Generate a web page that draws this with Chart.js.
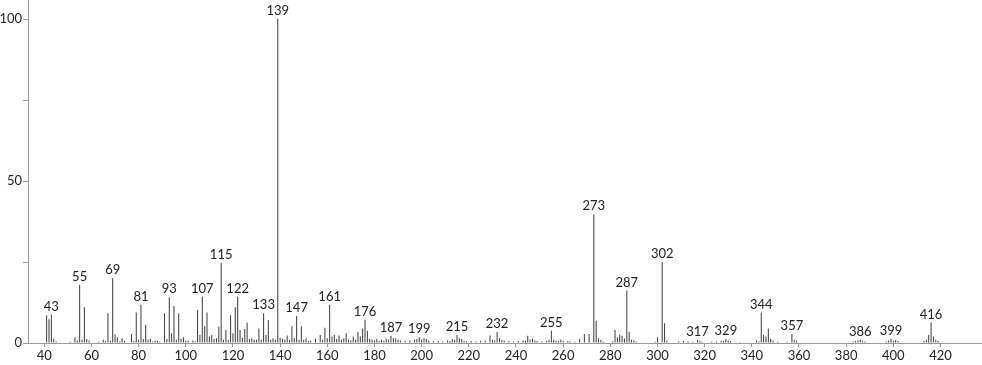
<!DOCTYPE html>
<html><head><meta charset="utf-8">
<style>html,body{margin:0;padding:0;background:#fff}#wrap{width:982px;height:365px;position:relative}</style>
<script src="https://cdn.jsdelivr.net/npm/chart.js@4.4.0/dist/chart.umd.min.js"></script>
</head><body><div id="wrap"><canvas id="c"></canvas></div>
<script>
const masses = [41,42,43,44,45,51,53,54,55,56,57,58,59,63,65,66,67,68,69,70,71,72,73,74,77,78,79,80,81,82,83,84,85,86,87,88,89,
91,92,93,94,95,96,97,98,99,100,101,103,104,105,106,107,108,109,110,111,112,113,114,115,116,117,118,119,120,121,122,123,124,125,126,127,128,129,130,
131,132,133,134,135,136,137,138,139,140,141,142,143,144,145,146,147,148,149,150,151,152,153,155,157,158,159,160,161,162,163,164,165,166,167,168,169,170,
171,172,173,174,175,176,177,178,179,180,181,182,183,184,185,186,187,188,189,190,191,193,195,197,198,199,200,201,202,203,205,207,209,211,212,213,214,215,216,217,218,219,
221,223,225,227,229,230,231,232,233,234,235,237,239,241,243,244,245,246,247,248,249,251,253,254,255,256,257,258,259,260,262,263,265,267,269,271,273,274,275,276,277,
281,282,283,284,285,286,287,288,289,290,291,299,300,302,303,304,309,311,313,315,317,318,319,323,325,327,328,329,330,331,335,342,343,344,345,346,347,348,349,351,355,
357,358,359,383,384,385,386,387,388,397,398,399,400,401,402,413,414,415,416,417,418,419];
const intensities = [8.5,7.3,8.7,1.3,0.5,0.4,1.8,0.8,18.0,1.0,11.0,1.2,0.8,0.4,1.0,0.6,9.2,0.8,20.0,2.7,1.8,0.5,1.5,0.6,2.8,0.6,9.4,1.0,11.8,1.2,5.6,1.0,1.3,0.5,0.7,0.7,0.4,
9.2,1.2,14.1,3.0,11.4,1.0,9.2,1.3,1.8,0.7,0.8,0.7,0.5,10.2,2.5,14.3,5.2,9.4,2.0,2.5,1.2,1.5,5.0,24.8,1.0,4.0,1.0,8.6,3.0,11.0,14.3,4.0,1.6,4.3,6.3,1.2,1.5,1.0,1.0,
4.5,1.0,9.2,2.5,7.1,1.0,1.5,1.0,100,1.6,1.3,1.0,2.3,1.0,5.2,1.5,8.3,1.0,5.2,1.0,1.5,0.6,0.7,1.3,2.5,1.0,4.7,1.5,11.7,2.0,2.5,1.2,2.3,1.0,1.5,3.0,1.0,0.8,
2.0,1.0,3.5,2.0,4.5,7.1,3.8,1.3,1.0,0.8,1.2,0.6,1.0,0.7,1.3,1.0,2.2,1.5,1.4,1.0,0.8,0.6,0.8,1.0,1.2,1.8,1.0,1.5,1.2,0.8,0.6,0.6,0.5,0.8,0.6,1.2,1.0,2.5,1.5,1.2,0.7,0.5,
0.6,0.5,0.7,0.8,2.3,1.0,0.8,3.4,1.5,1.0,0.8,0.6,0.5,0.6,0.8,0.7,2.2,1.0,1.3,0.8,0.6,0.5,0.6,1.0,3.8,1.0,0.8,0.6,1.0,0.7,0.6,0.5,0.4,1.3,2.8,2.8,39.7,6.9,1.5,1.0,0.5,
0.5,4.0,1.8,2.6,2.2,1.4,16.2,3.5,1.0,0.8,0.5,0.4,1.8,25.0,6.1,0.8,0.5,0.6,0.5,0.4,0.9,0.7,0.4,0.4,0.5,0.7,0.6,1.2,0.8,0.6,0.3,0.8,0.5,9.4,2.5,2.0,4.5,1.3,0.8,0.4,0.4,
2.8,1.0,0.8,0.5,0.6,0.8,0.9,0.7,0.5,0.5,0.8,1.2,0.7,0.9,0.6,0.6,1.0,2.5,6.3,2.0,1.0,0.6];
const peakLabels = [43,55,69,81,93,107,115,122,133,139,147,161,176,187,199,215,232,255,273,287,302,317,329,344,357,386,399,416];
const xTickValues = [40,60,80,100,120,140,160,180,200,220,240,260,280,300,320,340,360,380,400,420];
const yTickValues = [0,25,50,75,100];
const yTickLabels = ['0','','50','','100'];

const FONT = {family:'Lato, "DejaVu Sans", sans-serif', size:13};
const points = masses.map((m,i)=>({x:m,y:intensities[i]}));

const labelPlugin = {
  id:'peakLabels',
  afterDatasetsDraw(chart){
    const ctx = chart.ctx, xs = chart.scales.x, ys = chart.scales.y;
    ctx.save();
    ctx.font = FONT.size+'px '+FONT.family;
    ctx.fillStyle = '#222';
    ctx.textAlign = 'center';
    ctx.textBaseline = 'alphabetic';
    peakLabels.forEach(m=>{
      const i = masses.indexOf(m);
      if(i<0) return;
      ctx.fillText(String(m), xs.getPixelForValue(m), ys.getPixelForValue(intensities[i]) - 4);
    });
    ctx.restore();
  }
};

new Chart(document.getElementById('c'), {
  type:'bar',
  data:{datasets:[{data:points, backgroundColor:'#3a3a3a', borderWidth:0, barThickness:1, inflateAmount:0, grouped:false}]},
  options:{
    responsive:true, maintainAspectRatio:false, animation:false,
    layout:{padding:0},
    plugins:{legend:{display:false}, tooltip:{enabled:false}},
    scales:{
      x:{type:'linear', min:33.1, max:437.6, offset:false,
        afterBuildTicks:s=>{s.ticks = xTickValues.map(v=>({value:v}));},
        afterFit:s=>{s.height=22; s.paddingLeft=0; s.paddingRight=0;},
        ticks:{font:FONT, color:'#222', maxRotation:0, autoSkip:false, padding:1, callback:v=>String(v)},
        grid:{offset:false, drawOnChartArea:false, drawTicks:true, tickLength:4, color:'#999'},
        border:{color:'#999', width:1}
      },
      y:{min:0, max:105.9,
        afterBuildTicks:s=>{s.ticks = yTickValues.map(v=>({value:v}));},
        afterFit:s=>{s.width=28; s.paddingTop=0; s.paddingBottom=0;},
        ticks:{font:FONT, color:'#222', padding:1, callback:(v,i)=>yTickLabels[i]},
        grid:{drawOnChartArea:false, drawTicks:true, tickLength:5, color:'#999'},
        border:{color:'#999', width:1}
      }
    }
  },
  plugins:[labelPlugin]
});
</script></body></html>
